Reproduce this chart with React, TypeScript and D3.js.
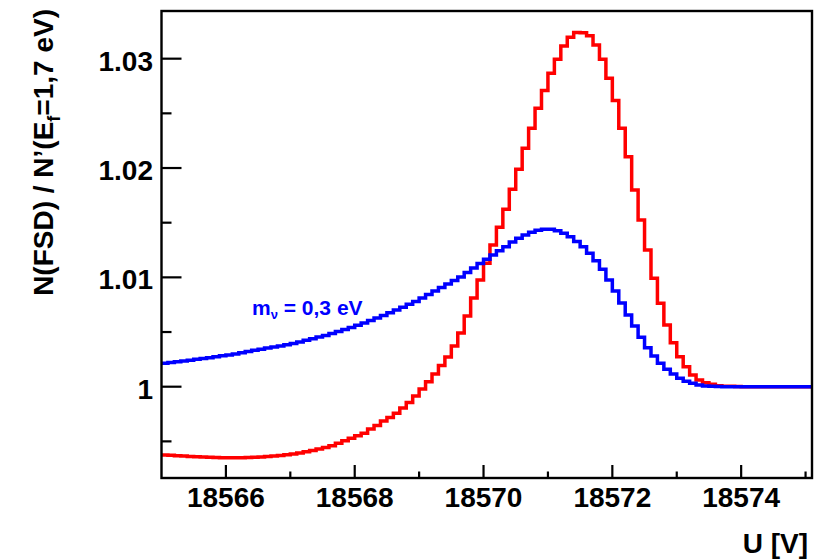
import React from "react";
import * as d3 from "d3";

// Histogram binning (U in volts)
const binStart = 18565;
const binWidth = 0.1;

// N(FSD)/N'(Ef=1.7 eV) per bin – red histogram
const redValues = [
  0.99375, 0.99372, 0.99369, 0.99366, 0.99362, 0.9936, 0.99357, 0.99355, 0.99353, 0.99351,
  0.9935, 0.9935, 0.99351, 0.99352, 0.99354, 0.99357, 0.99361, 0.99366, 0.99371, 0.99378,
  0.99384, 0.99393, 0.99404, 0.99416, 0.9943, 0.99445, 0.9946, 0.99482, 0.99506, 0.99528,
  0.99551, 0.99574, 0.99613, 0.99645, 0.99686, 0.99718, 0.99757, 0.99805, 0.99855, 0.99915,
  0.99979, 1.00046, 1.00116, 1.00194, 1.00272, 1.00372, 1.00491, 1.00647, 1.00812, 1.00976,
  1.01129, 1.01296, 1.01458, 1.01623, 1.01806, 1.01989, 1.02181, 1.02364, 1.02547, 1.02708,
  1.02867, 1.02995, 1.03117, 1.03197, 1.03239, 1.03236, 1.03209, 1.03126, 1.02995, 1.02822,
  1.02617, 1.02364, 1.02104, 1.018, 1.01525, 1.01251, 1.00992, 1.00763, 1.00565, 1.00403,
  1.00274, 1.00183, 1.00107, 1.00061, 1.00037, 1.00022, 1.00009, 1.00005, 1.00003, 1.00001,
  1.0, 1.0, 1.0, 1.0, 1.0, 1.0, 1.0, 1.0, 1.0, 1.0, 1.0,
];

// m_nu = 0,3 eV – blue histogram
const blueValues = [
  1.00214, 1.00221, 1.00229, 1.00235, 1.00242, 1.0025, 1.00258, 1.00265, 1.00274, 1.00282,
  1.0029, 1.003, 1.00311, 1.00322, 1.00333, 1.00343, 1.00353, 1.00363, 1.00373, 1.00384,
  1.00395, 1.00409, 1.00424, 1.00438, 1.00454, 1.00469, 1.00487, 1.00504, 1.00522, 1.00542,
  1.00562, 1.00583, 1.00606, 1.00629, 1.00652, 1.00677, 1.00702, 1.00727, 1.00754, 1.0078,
  1.00812, 1.00844, 1.00876, 1.00908, 1.0094, 1.00972, 1.01004, 1.01045, 1.01086, 1.01127,
  1.01166, 1.01205, 1.01244, 1.01281, 1.01324, 1.01358, 1.01388, 1.01413, 1.01431, 1.0144,
  1.0144, 1.01427, 1.01403, 1.01372, 1.01327, 1.01281, 1.0122, 1.01153, 1.01074, 1.00976,
  1.00876, 1.00766, 1.00656, 1.00555, 1.00452, 1.00357, 1.00281, 1.00214, 1.00159, 1.00116,
  1.00077, 1.00049, 1.00031, 1.00016, 1.00006, 1.00003, 1.00001, 1.0, 1.0, 1.0,
  1.0, 1.0, 1.0, 1.0, 1.0, 1.0, 1.0, 1.0, 1.0, 1.0, 1.0,
];

const xMajorTicks = [18566, 18568, 18570, 18572, 18574];
const xTickLabels = ["18566", "18568", "18570", "18572", "18574"];
const xMinorTicks = [18567, 18569, 18571, 18573, 18575];
const yMajorTicks = [1.0, 1.01, 1.02, 1.03];
const yTickLabels = ["1", "1.01", "1.02", "1.03"];
const yMinorTicks = [0.995, 1.005, 1.015, 1.025];

const xDomain = [18565, 18575.1];
const yDomain = [0.99165, 1.03436];

const FONT = "'Liberation Sans', Arial, Helvetica, sans-serif";

export default function App() {
  const left = 161.5;
  const right = 812;
  const top = 11;
  const bottom = 478;

  const x = d3.scaleLinear().domain(xDomain).range([left, right]);
  const y = d3.scaleLinear().domain(yDomain).range([bottom, top]);

  const toPoints = (vals: number[]) => {
    const pts: [number, number][] = vals.map((v, i) => [binStart + i * binWidth, v]);
    pts.push([binStart + vals.length * binWidth, vals[vals.length - 1]]);
    return pts;
  };

  const line = d3
    .line<[number, number]>()
    .x((d) => x(d[0]))
    .y((d) => y(d[1]))
    .curve(d3.curveStepAfter);

  const redPath = line(toPoints(redValues)) || "";
  const bluePath = line(toPoints(blueValues)) || "";

  return (
    <svg
      width={830}
      height={560}
      style={{ position: "absolute", left: 0, top: 0, background: "#fff" }}
      fontFamily={FONT}
      fontWeight="bold"
    >
      <rect x={0} y={0} width={830} height={560} fill="#fff" />
      <defs>
        <clipPath id="frameClip">
          <rect x={left} y={top} width={right - left} height={bottom - top} />
        </clipPath>
      </defs>

      <g clipPath="url(#frameClip)">
        <path d={redPath} fill="none" stroke="#ff0000" strokeWidth={3.5} strokeLinejoin="miter" />
        <path d={bluePath} fill="none" stroke="#0000ff" strokeWidth={3.5} strokeLinejoin="miter" />
      </g>

      {/* ticks */}
      {yMajorTicks.map((t) => (
        <line key={"ym" + t} x1={left} x2={left + 20} y1={y(t)} y2={y(t)} stroke="#000" strokeWidth={2.2} />
      ))}
      {yMinorTicks.map((t) => (
        <line key={"yn" + t} x1={left} x2={left + 10} y1={y(t)} y2={y(t)} stroke="#000" strokeWidth={2.2} />
      ))}
      {xMajorTicks.map((t) => (
        <line key={"xm" + t} x1={x(t)} x2={x(t)} y1={bottom} y2={bottom - 13} stroke="#000" strokeWidth={2.2} />
      ))}
      {xMinorTicks.map((t) => (
        <line key={"xn" + t} x1={x(t)} x2={x(t)} y1={bottom} y2={bottom - 6.5} stroke="#000" strokeWidth={2.2} />
      ))}

      {/* frame */}
      <rect x={left} y={top} width={right - left} height={bottom - top} fill="none" stroke="#000" strokeWidth={2.4} />

      {/* tick labels */}
      {yMajorTicks.map((t, i) => (
        <text key={"yl" + t} x={153} y={y(t) + 12} textAnchor="end" fontSize={28} fill="#000">
          {yTickLabels[i]}
        </text>
      ))}
      {xMajorTicks.map((t, i) => (
        <text key={"xl" + t} x={x(t)} y={bottom + 29} textAnchor="middle" fontSize={28} fill="#000">
          {xTickLabels[i]}
        </text>
      ))}

      {/* axis titles */}
      <text x={808} y={553} textAnchor="end" fontSize={28} fill="#000">
        U [V]
      </text>
      <text transform="translate(53,9) rotate(-90)" textAnchor="end" fontSize={28} fill="#000">
        N(FSD) / N’(E
        <tspan fontSize={18} dy={7}>f</tspan>
        <tspan dy={-7}>=1,7 eV)</tspan>
      </text>

      {/* label */}
      <text x={252} y={315} fontSize={21} fill="#0000ff">
        m
        <tspan fontSize={13} dy={4}>ν</tspan>
        <tspan dy={-4}> = 0,3 eV</tspan>
      </text>
    </svg>
  );
}
